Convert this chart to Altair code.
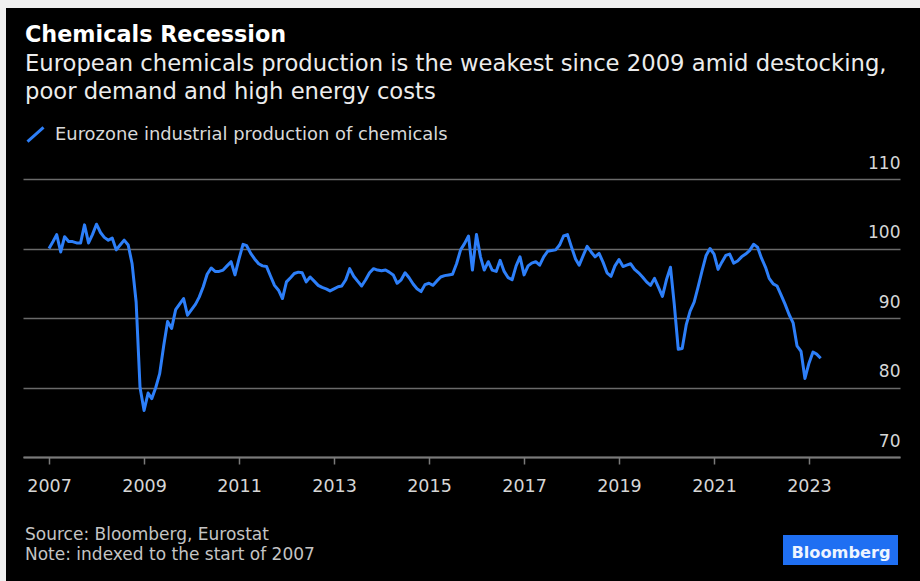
import altair as alt
import pandas as pd

# ---- data (monthly index, Jan 2007 = 100) ----
v2007 = [100, 101, 102, 99.5, 101.7, 101, 101, 100.8, 100.8, 103.4, 100.8, 102]
v2008 = [103.5, 102.3, 101.6, 101.2, 101.5, 99.8, 100.5, 101.2, 100.5, 97.8, 92.3, 80]
v2009 = [76.7, 79.2, 78.4, 80, 82, 86, 89.5, 88.5, 91.2, 92, 92.8, 90.4]
v2010 = [91.2, 92, 93, 94.5, 96.3, 97.2, 96.7, 96.7, 96.9, 97.5, 98.1, 96.2]
v2011 = [98.5, 100.6, 100.4, 99.3, 98.5, 97.8, 97.5, 97.4, 96, 94.7, 94, 92.8]
v2012 = [95.2, 95.8, 96.4, 96.6, 96.5, 95.2, 95.9, 95.3, 94.7, 94.4, 94.2, 93.9]
v2013 = [94.2, 94.5, 94.6, 95.5, 97.1, 96, 95.3, 94.6, 95.5, 96.5, 97.1, 96.9]
v2014 = [96.8, 96.9, 96.6, 96.2, 95, 95.5, 96.5, 95.8, 94.9, 94.2, 93.8, 94.8]
v2015 = [95, 94.7, 95.3, 95.9, 96.1, 96.2, 96.3, 97.8, 99.8, 100.7, 101.8, 96.9]
v2016 = [102, 98.8, 96.9, 98.1, 96.9, 96.7, 98.3, 96.7, 95.8, 95.5, 97.5, 98.8]
v2017 = [96.2, 97.5, 97.9, 98.1, 97.6, 98.8, 99.6, 99.7, 99.8, 100.5, 101.8, 102]
v2018 = [100.2, 98.5, 97.6, 99, 100.3, 99.5, 98.8, 99.3, 98, 96.5, 96, 97.5]
v2019 = [98.4, 97.4, 97.6, 97.8, 97, 96.5, 95.9, 95.2, 94.7, 95.7, 94.4, 93.1]
v2020 = [95.5, 97.3, 92, 85.5, 85.6, 89, 91, 92.3, 94.5, 96.8, 99, 100]
v2021 = [99.2, 97, 98, 99, 99.2, 97.9, 98.2, 98.8, 99.2, 99.7, 100.6, 100.2]
v2022 = [98.6, 97.3, 95.7, 94.9, 94.6, 93.3, 92, 90.5, 89.3, 86, 85.2, 81.3]
v2023 = [83.5, 85.1, 84.8, 84.2]

values = (v2007 + v2008 + v2009 + v2010 + v2011 + v2012 + v2013 + v2014 + v2015
          + v2016 + v2017 + v2018 + v2019 + v2020 + v2021 + v2022 + v2023)
dates = pd.date_range("2007-01-01", periods=len(values), freq="MS")
series_name = "Eurozone industrial production of chemicals"

y_ticks = [70, 80, 90, 100, 110]
x_tick_years = list(range(2007, 2024, 2))

title_text = "Chemicals Recession"
subtitle_1 = "European chemicals production is the weakest since 2009 amid destocking,"
subtitle_2 = "poor demand and high energy costs"
source_text = "Source: Bloomberg, Eurostat"
note_text = "Note: indexed to the start of 2007"
logo_text = "Bloomberg"

df = pd.DataFrame({"date": dates, "value": values, "series": series_name})

FONT = "DejaVu Sans"
BLUE = "#2d7ff9"
GRID = "#6a6a6a"

line = alt.Chart(df).mark_line(strokeWidth=3, strokeJoin="round").encode(
    x=alt.X(
        "date:T",
        title=None,
        scale=alt.Scale(
            domain=[alt.DateTime(year=2006, month=6, date=15),
                    alt.DateTime(year=2024, month=12, date=1)],
            nice=False,
        ),
        axis=alt.Axis(
            values=[alt.DateTime(year=y, month=1, date=1) for y in x_tick_years],
            format="%Y",
            grid=False,
            domain=True,
            domainColor="#7a7a7a",
            domainWidth=2,
            ticks=True,
            tickColor="#7a7a7a",
            tickWidth=1.5,
            tickSize=7,
            labelPadding=13,
            labelBaseline="top",
            labelFont=FONT,
            labelFontSize=17.5,
            labelColor="#d6d6d6",
            labelOverlap=False,
            labelFlush=False,
        ),
    ),
    y=alt.Y(
        "value:Q",
        title=None,
        scale=alt.Scale(domain=[70, 110], nice=False, zero=False),
        axis=alt.Axis(
            orient="right",
            values=y_ticks,
            grid=True,
            gridColor=GRID,
            gridWidth=1.5,
            domain=False,
            ticks=False,
            tickSize=0,
            labelAlign="right",
            labelBaseline="alphabetic",
            labelPadding=0,
            labelOffset=-11,
            labelFont=FONT,
            labelFontSize=17,
            labelColor="#d6d6d6",
        ),
    ),
    color=alt.Color(
        "series:N",
        scale=alt.Scale(range=[BLUE]),
        legend=alt.Legend(
            orient="none",
            legendX=3,
            legendY=-54,
            title=None,
            padding=0,
            symbolType="M-1,0.9L1,-0.9",
            symbolSize=256,
            symbolStrokeWidth=3,
            labelOffset=10,
            labelFont=FONT,
            labelFontSize=17.9,
            labelColor="#d9d9d9",
            labelLimit=800,
        ),
    ),
)

one = alt.Data(values=[{}])

# light frame strips at the top and left edge
frame_left = alt.Chart(one).mark_rect(color="#f0f0f0").encode(
    x=alt.value(-23), x2=alt.value(-17), y=alt.value(-179), y2=alt.value(402))
frame_top = alt.Chart(one).mark_rect(color="#f0f0f0").encode(
    x=alt.value(-23), x2=alt.value(897), y=alt.value(-179), y2=alt.value(-171))


def text_layer(txt, x, y, size, color, weight="normal", align="left"):
    return alt.Chart(pd.DataFrame({"t": [txt]})).mark_text(
        font=FONT, fontSize=size, fontWeight=weight, color=color,
        align=align, baseline="alphabetic",
    ).encode(text="t:N", x=alt.value(x), y=alt.value(y))


title = text_layer(title_text, 2, -137, 22.3, "#ffffff", weight="bold")
sub1 = text_layer(subtitle_1, 2, -108, 22.7, "#ececec")
sub2 = text_layer(subtitle_2, 2, -80, 22.7, "#ececec")
source = text_layer(source_text, 2, 360.5, 17, "#c4c4c4")
note = text_layer(note_text, 2, 380.5, 17, "#c4c4c4")

logo_box = alt.Chart(one).mark_rect(color="#1f6ff2").encode(
    x=alt.value(760), x2=alt.value(875), y=alt.value(356), y2=alt.value(386))
logo = text_layer(logo_text, 818, 378.5, 16.2, "#eef4ff", weight="bold", align="center")

chart = alt.layer(
    frame_left, frame_top, line, title, sub1, sub2, source, note, logo_box, logo
).properties(
    width=877,
    height=278,
    padding={"left": 23, "top": 179, "right": 20, "bottom": 124},
    autosize=alt.AutoSizeParams(type="none"),
    background="#000000",
).configure_view(stroke=None)

chart.save("out.html", embed_options={"renderer": "svg", "actions": False})
